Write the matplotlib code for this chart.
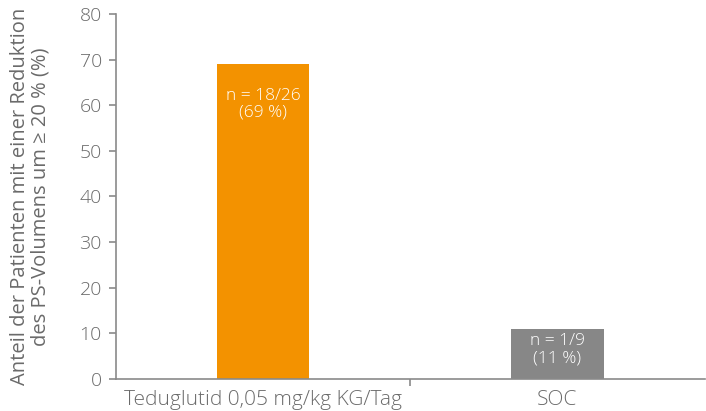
import matplotlib.pyplot as plt

plt.rcParams['font.family'] = ['Open Sans', 'DejaVu Sans']
plt.rcParams['font.weight'] = 'light'

# Daten
categories = ['Teduglutid 0,05 mg/kg KG/Tag', 'SOC']
values = [69, 11]
bar_labels = ['n = 18/26\n(69 %)', 'n = 1/9\n(11 %)']
colors = ['#F39200', '#878787']
yticks = [0, 10, 20, 30, 40, 50, 60, 70, 80]

# Abstand der Beschriftung unter der Balkenoberkante (in Achseneinheiten)
label_drop = [8.7, 4.6]

text_color = '#6a6a6a'
axis_color = '#8a8a8a'

fig = plt.figure(figsize=(7.06, 4.11), dpi=100, facecolor='white')
ax = fig.add_axes([0.164, 0.078, 0.834, 0.888])

x = range(len(categories))
bars = ax.bar(x, values, width=0.315, color=colors, zorder=2)

# Beschriftung in den Balken
for bar, label, drop in zip(bars, bar_labels, label_drop):
    ax.text(bar.get_x() + bar.get_width() / 2, bar.get_height() - drop, label,
            ha='center', va='center', color='white', fontsize=12.5, linespacing=1.05)

ax.set_xlim(-0.5, 1.5)
ax.set_ylim(0, 80)
ax.set_yticks(yticks)
ax.set_yticklabels([str(t) for t in yticks], fontsize=14, color=text_color)

# Kategorien mittig, Trennstriche zwischen den Gruppen
ax.set_xticks(list(x))
ax.set_xticklabels(categories, fontsize=15, color=text_color)
ax.tick_params(axis='x', which='major', length=0, pad=8)
ax.set_xticks([0.5], minor=True)
ax.tick_params(axis='x', which='minor', length=5, direction='out', color=axis_color, width=1.2)
ax.tick_params(axis='y', length=5, color=axis_color, width=1.2, pad=5)

for side in ['top', 'right']:
    ax.spines[side].set_visible(False)
for side in ['left', 'bottom']:
    ax.spines[side].set_color(axis_color)
    ax.spines[side].set_linewidth(1.2)

ax.set_ylabel('Anteil der Patienten mit einer Reduktion\ndes PS-Volumens um \u2265 20 % (%)',
              fontsize=14.5, color=text_color, linespacing=1.05, labelpad=21)

plt.savefig('out.png', dpi=100, facecolor='white')
